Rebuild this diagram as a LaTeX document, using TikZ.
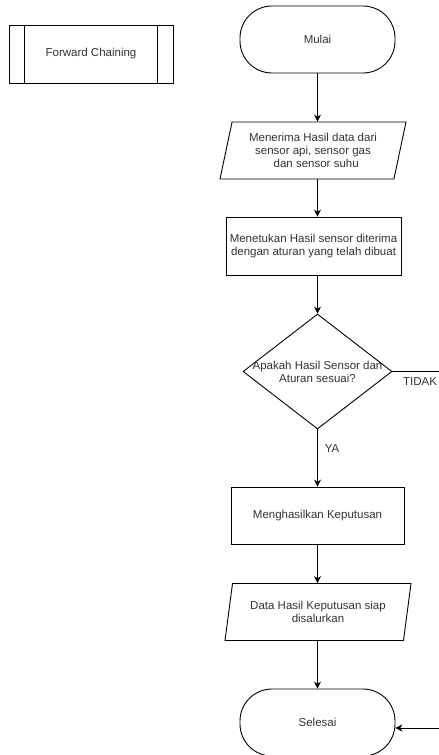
\documentclass[tikz,border=0pt]{standalone}
\usepackage{fontspec}
\setmainfont{Liberation Sans}
\usetikzlibrary{shapes.geometric,arrows.meta}
\definecolor{txt}{RGB}{51,51,51}
\begin{document}
\begin{tikzpicture}[x=1pt,y=-1pt,
  every node/.style={font=\fontsize{11.5}{13}\selectfont,text=txt,align=center},
  box/.style={draw=black,line width=0.9pt,rectangle,inner sep=0pt},
  term/.style={draw=black,line width=0.9pt,rectangle,rounded corners=32pt,minimum width=155pt,minimum height=67pt,inner sep=0pt},
  io/.style={draw=black,line width=0.9pt,trapezium,trapezium left angle=70.7,trapezium right angle=109.3,trapezium stretches body=true,minimum width=186pt,minimum height=57pt,inner sep=0pt},
  dec/.style={draw=black,line width=0.9pt,diamond,minimum width=149pt,minimum height=115pt,inner sep=0pt},
  flow/.style={draw=black,line width=0.9pt,-{Stealth[length=7pt,width=7pt]}},
  plain/.style={draw=black,line width=0.9pt}]
\useasboundingbox (0,0) rectangle (439,755);

% predefined process
\node[box,minimum width=164pt,minimum height=58pt] (fc) at (91,54) {Forward Chaining};
\draw[plain] ([xshift=16pt]fc.north west) -- ([xshift=16pt]fc.south west);
\draw[plain] ([xshift=-16pt]fc.north east) -- ([xshift=-16pt]fc.south east);

\node[term] (mulai) at (317.5,39.5) {Mulai};
\node[io] (in) at (313,150.5) {Menerima Hasil data dari\\sensor api, sensor gas\\\ \ dan sensor suhu};
\node[box,minimum width=175pt,minimum height=58pt] (proc) at (313.5,246) {Menetukan Hasil sensor diterima\\dengan aturan yang telah dibuat};
\node[dec,label={[align=center,font=\fontsize{11.5}{13}\selectfont,text=txt]center:Apakah Hasil Sensor dan\\Aturan sesuai?}] (dec) at (317.5,371.5) {};
\node[box,minimum width=173pt,minimum height=57pt] (hasil) at (317.5,515.5) {Menghasilkan Keputusan};
\node[io] (out) at (318,612) {Data Hasil Keputusan siap\\disalurkan};
\node[term] (sel) at (317.5,722.5) {Selesai};

\coordinate (tout) at (439,371.5);
\coordinate (tin) at (439,728);

\draw[flow] (mulai.south) -- (mulai.south |- in.north);
\draw[flow] (mulai.south |- in.south) -- (mulai.south |- proc.north);
\draw[flow] (mulai.south |- proc.south) -- (dec.north);
\draw[flow] (dec.south) -- (hasil.north -| dec.south);
\draw[flow] (hasil.south -| dec.south) -- (out.north -| dec.south);
\draw[flow] (out.south -| dec.south) -- (sel.north);
\draw[plain] (dec.east) -- (tout);
\draw[flow] (tin) -- (tin -| sel.east);

\node at (420,382) {TIDAK};
\node at (332,449) {YA};
\end{tikzpicture}
\end{document}
